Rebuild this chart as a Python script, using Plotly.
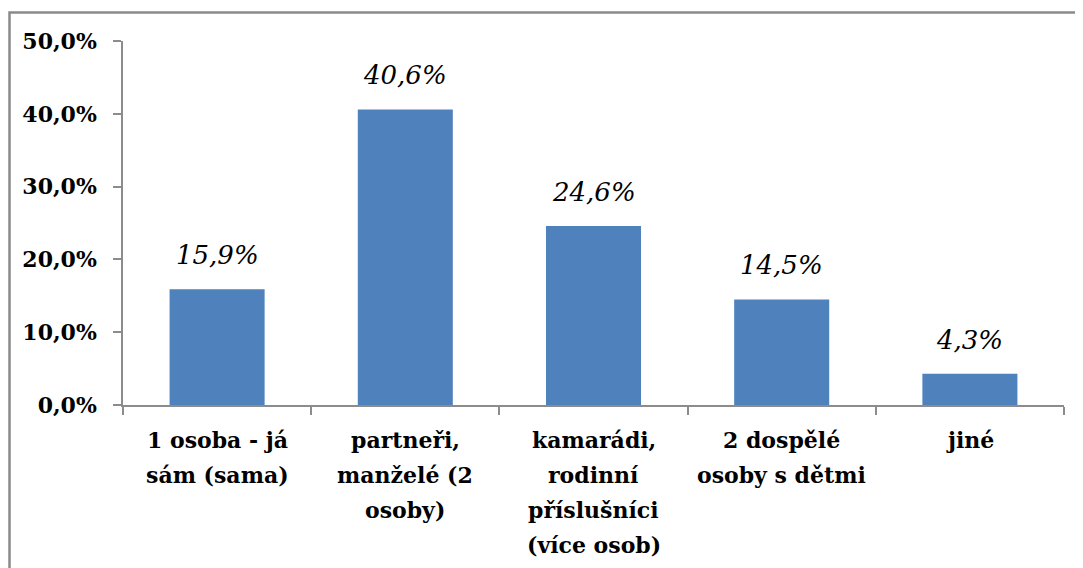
import plotly.graph_objects as go

categories = ["1 osoba", "partneři", "kamarádi", "2 dospělé", "jiné"]
category_lines = [
    ["1 osoba - já", "sám (sama)"],
    ["partneři,", "manželé (2", "osoby)"],
    ["kamarádi,", "rodinní", "příslušníci", "(více osob)"],
    ["2 dospělé", "osoby s dětmi"],
    ["jiné"],
]
values = [15.9, 40.6, 24.6, 14.5, 4.3]
labels = ["15,9%", "40,6%", "24,6%", "14,5%", "4,3%"]
yticks = [0, 10, 20, 30, 40, 50]
yticklabels = ["0,0%", "10,0%", "20,0%", "30,0%", "40,0%", "50,0%"]

serif = "DejaVu Serif"
axis_col = "#8c8c8c"

# page body has an 8px margin, so the margins below are shifted by it
L, T, W, H = 115, 33, 941, 364

fig = go.Figure()
fig.add_trace(go.Bar(x=categories, y=values, marker_color="#4F81BD",
                     marker_line_width=0))

for c, v, t in zip(categories, values, labels):
    fig.add_annotation(x=c, y=v, text="<i>" + t + "</i>", showarrow=False,
                       yanchor="bottom", yshift=17,
                       font=dict(family=serif, size=26, color="black"))

# category labels, one annotation per line to get the wider line spacing
for c, lines in zip(categories, category_lines):
    for i, line in enumerate(lines):
        fig.add_annotation(x=c, xref="x", y=0, yref="paper", text="<b>" + line + "</b>",
                           showarrow=False, yanchor="middle", yshift=-(35 + 35 * i),
                           font=dict(family=serif, size=22, color="black"))

fig.update_layout(
    width=1083, height=568,
    margin=dict(l=L, r=1083 - L - W, t=T, b=568 - T - H, autoexpand=False),
    plot_bgcolor="white", paper_bgcolor="white",
    bargap=0.495, showlegend=False,
    font=dict(family=serif, color="black"),
)
fig.update_yaxes(
    range=[0, 50], tickvals=yticks, ticktext=yticklabels,
    showgrid=False, zeroline=False, showline=True, linecolor=axis_col, linewidth=1.5,
    ticks="outside", ticklen=8, tickcolor=axis_col, tickwidth=1.5,
    ticklabelstandoff=12,
    tickfont=dict(family=serif, size=22, color="black", weight="bold"),
)
fig.update_xaxes(
    showgrid=False, showline=True, linecolor=axis_col, linewidth=1.5,
    ticks="outside", ticklen=8, tickcolor=axis_col, tickwidth=1.5,
    tickson="boundaries", showticklabels=False,
)

# chart border, cut off on the right and bottom like the source image
fig.add_shape(type="rect", xref="paper", yref="paper",
              x0=(1.5 - L) / W, x1=1.2, y0=-0.7, y1=(T + H - 4.5) / H,
              line=dict(color="#8a8a8a", width=2.5), layer="below")

fig.write_html("out.html")
